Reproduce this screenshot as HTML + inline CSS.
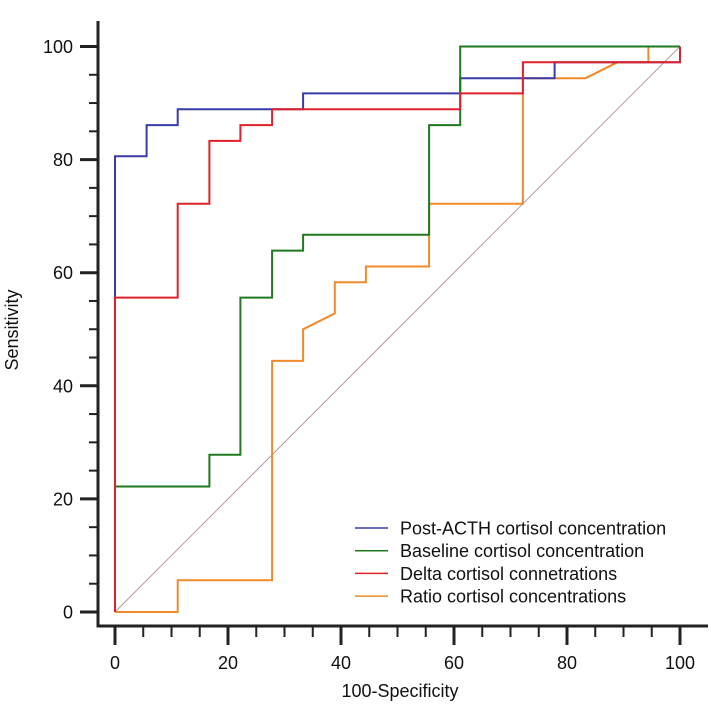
<!DOCTYPE html>
<html><head><meta charset="utf-8">
<style>
html,body{margin:0;padding:0;background:#fff;width:709px;height:722px;overflow:hidden}
svg{display:block;font-family:"Liberation Sans",Arial,sans-serif}
</style></head>
<body>
<svg id="chart" width="709" height="722" viewBox="0 0 709 722">
<g id="axes"></g>
<g id="series"></g>
<g id="legend"></g>
<text x="18" y="330" transform="rotate(-90 18 330)" text-anchor="middle" font-size="18" fill="#111">Sensitivity</text>
<text x="400" y="697" text-anchor="middle" font-size="18" fill="#111">100-Specificity</text>
</svg>
<script>
const xTicks = [0,20,40,60,80,100];
const yTicks = [0,20,40,60,80,100];
const seriesNames = ["Post-ACTH cortisol concentration","Baseline cortisol concentration","Delta cortisol connetrations","Ratio cortisol concentrations"];
const seriesColors = ["#3a3aa8","#1f7a1f","#e0202a","#f08a2a"];
const postX = [0,0,5.6,5.6,11.1,11.1,33.3,33.3,61.1,61.1,77.8,77.8,100,100];
const postY = [0,80.6,80.6,86.1,86.1,88.9,88.9,91.7,91.7,94.4,94.4,97.2,97.2,100];
const baseX = [0,0,16.7,16.7,22.2,22.2,27.8,27.8,33.3,33.3,55.6,55.6,61.1,61.1,100];
const baseY = [0,22.2,22.2,27.8,27.8,55.6,55.6,63.9,63.9,66.7,66.7,86.1,86.1,100,100];
const deltaX = [0,0,11.1,11.1,16.7,16.7,22.2,22.2,27.8,27.8,61.1,61.1,72.2,72.2,100,100];
const deltaY = [0,55.6,55.6,72.2,72.2,83.3,83.3,86.1,86.1,88.9,88.9,91.7,91.7,97.2,97.2,100];
const ratioX = [0,11.1,11.1,27.8,27.8,33.3,33.3,38.9,38.9,44.4,44.4,55.6,55.6,72.2,72.2,83.3,88.9,94.4,94.4,100];
const ratioY = [0,0,5.6,5.6,44.4,44.4,50,52.8,58.3,58.3,61.1,61.1,72.2,72.2,94.4,94.4,97.2,97.2,100,100];

const NS="http://www.w3.org/2000/svg";
const sx = v => 115 + v*5.65;
const sy = v => 612 - v*5.655;
function mk(tag, attrs, parent){const e=document.createElementNS(NS,tag);for(const k in attrs)e.setAttribute(k,attrs[k]);parent.appendChild(e);return e;}
const axes=document.getElementById('axes');
const ser=document.getElementById('series');
const leg=document.getElementById('legend');

let el=mk('line',{x1:98,y1:21,x2:98,y2:627.5,stroke:'#222','stroke-width':3},axes);


el=mk('line',{x1:96.5,y1:626,x2:708,y2:626,stroke:'#222','stroke-width':3},axes);



for(let v=0;v<=100;v+=5){
  const major = v%20===0;
  el=mk('line',{x1:major?80:89,y1:sy(v),x2:98,y2:sy(v),stroke:'#222','stroke-width':major?3:2},axes);
  
  
  el=mk('line',{x1:sx(v),y1:626,x2:sx(v),y2:major?645:637,stroke:'#222','stroke-width':major?3:2},axes);
  
  
}
yTicks.forEach(v=>{
  const t=mk('text',{x:73,y:sy(v)+6.5,'text-anchor':'end','font-size':18,fill:'#111'},axes);
  t.textContent=v;
  
  
});
xTicks.forEach(v=>{
  const t=mk('text',{x:sx(v),y:669,'text-anchor':'middle','font-size':18,fill:'#111'},axes);
  t.textContent=v;
  
  
});

el=mk('line',{x1:sx(0),y1:sy(0),x2:sx(100),y2:sy(100),stroke:'#b89a9a','stroke-width':1},ser);



const allX=[postX,baseX,deltaX,ratioX], allY=[postY,baseY,deltaY,ratioY];
const drawOrder=[3,0,1,2];
const keys=['post-acth','baseline','delta','ratio'];
drawOrder.forEach(i=>{
  const pts=allX[i].map((x,j)=>sx(x).toFixed(1)+','+sy(allY[i][j]).toFixed(1)).join(' ');
  const p=mk('polyline',{points:pts,fill:'none',stroke:seriesColors[i],'stroke-width':2},ser);
  
  
});

seriesNames.forEach((n,i)=>{
  const y=528+i*22.7;
  const l=mk('line',{x1:355,y1:y,x2:388,y2:y,stroke:seriesColors[i],'stroke-width':1.5},leg);
  
  
  const t=mk('text',{x:400,y:y+6.5,'font-size':18,fill:'#111'},leg);
  t.textContent=n;
  
  
});
</script>
</body></html>
